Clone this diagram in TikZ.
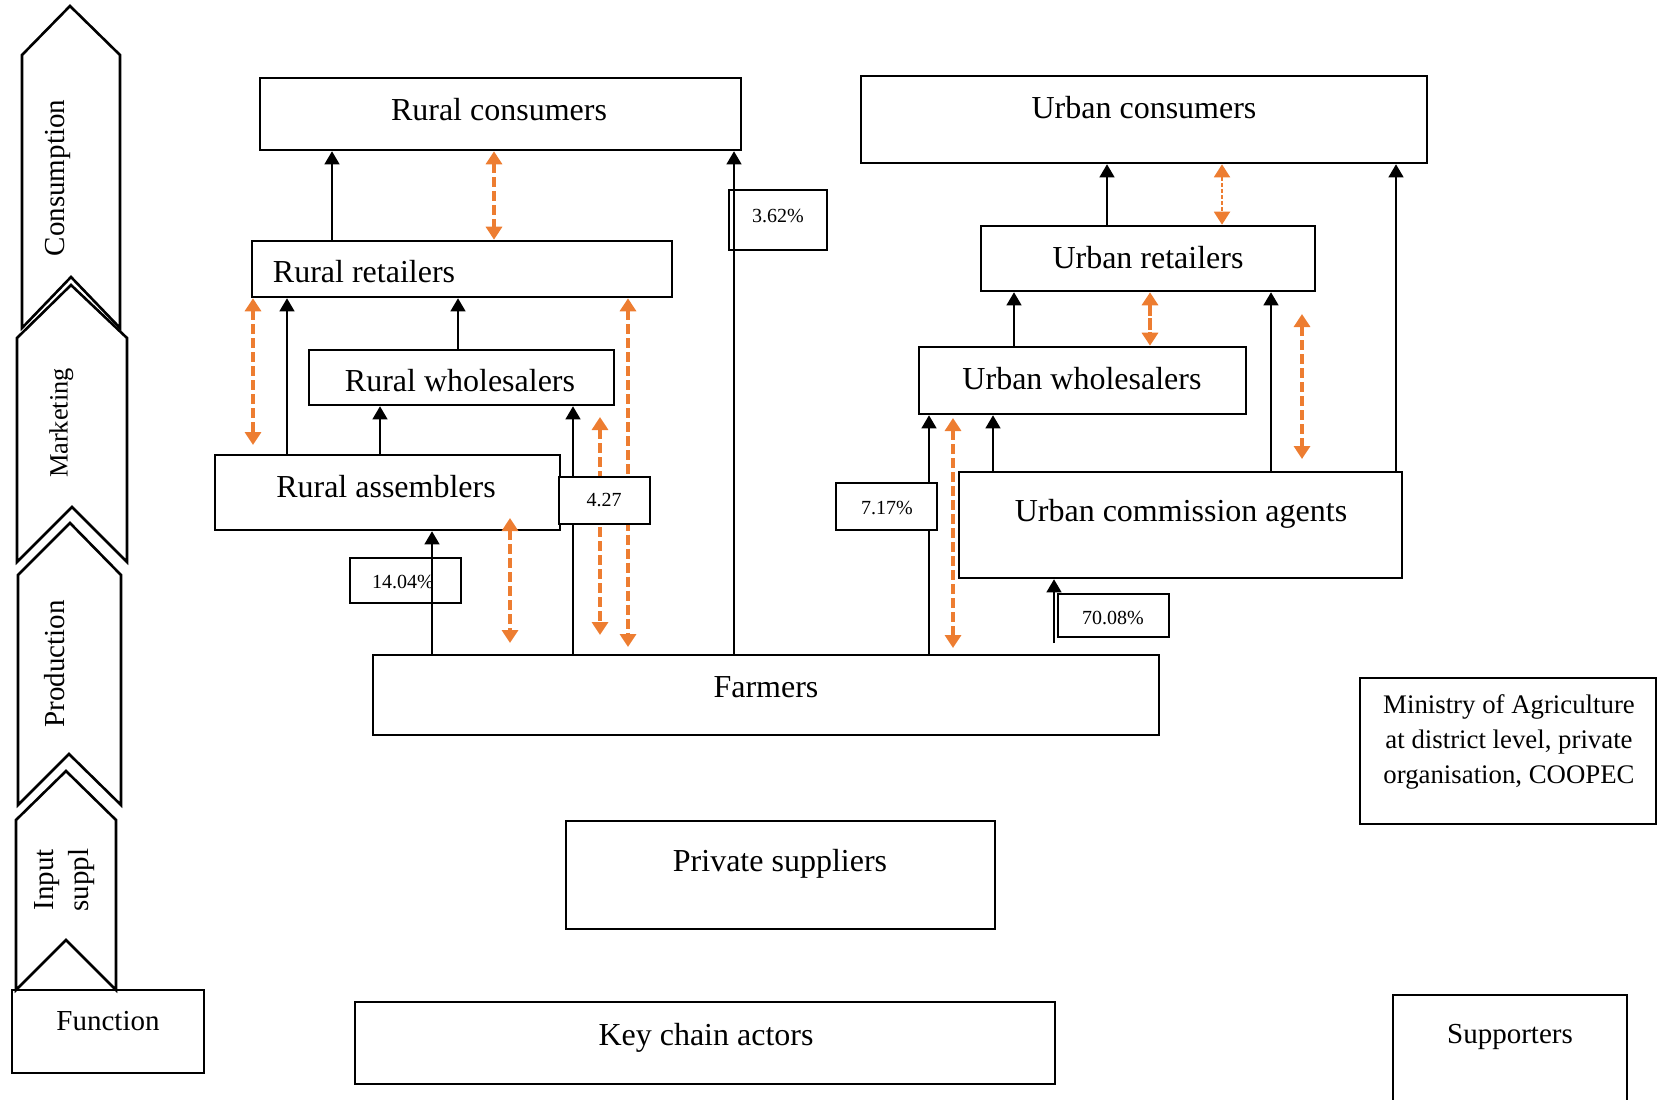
\documentclass[tikz,border=0pt]{standalone}
\usepackage{fontspec}
\setmainfont{Liberation Serif}
\usepackage{tikz}
\usetikzlibrary{arrows.meta,positioning,fit,calc}
\definecolor{linkorange}{RGB}{237,125,49}

\begin{document}
\begin{tikzpicture}[x=0.5pt, y=-0.5pt, >={Triangle[width=7.5pt,length=6.5pt]},
        box/.style={draw, line width=1.3pt, inner sep=0pt},
        pctbox/.style={draw, line width=1.2pt, inner sep=0pt},
        pct/.style={inner sep=0pt, font=\fontsize{10}{12}\selectfont, text height=6.6pt, text depth=0pt},
        actor/.style={inner sep=0pt, font=\fontsize{16}{19}\selectfont, text height=10.6pt, text depth=0pt},
        stagetxt/.style={inner sep=0pt, font=\fontsize{14.5}{17.5}\selectfont, text height=9.6pt, text depth=0pt},
        stage/.style={draw, line width=1.3pt, line join=miter},
        flow/.style={->, line width=0.6pt},
        link/.style={<->, draw=linkorange, line width=2pt, dash pattern=on 5pt off 2pt, >={Triangle[width=8pt,length=6.5pt]}}]
        \useasboundingbox (0,0) rectangle (1659,1099);

        % functions column
        \draw[stage] (22,55) -- (70,6) -- (120,55) -- (120,328) -- (71,277) -- (22,328) -- cycle;
        \draw[stage] (17,338) -- (71,285) -- (127,338) -- (127,562) -- (72,507) -- (17,562) -- cycle;
        \draw[stage] (18,575) -- (70,523) -- (121,575) -- (121,805) -- (69,754) -- (18,805) -- cycle;
        \draw[stage] (16,820) -- (66,771) -- (116,820) -- (116,990) -- (66,940) -- (16,990) -- cycle;
        \node[stagetxt, rotate=90] (consumption) at (55,178) {Consumption};
        \node[stagetxt, rotate=90, font=\fontsize{13.2}{16}\selectfont] (marketing) at (58,423) {Marketing};
        \node[stagetxt, rotate=90] (production) at (55,664) {Production};
        \node[rotate=90, align=center, inner sep=0pt, font=\fontsize{14.5}{17.5}\selectfont] (inputs) at (65,880) {Input\\suppl};
        \node[box, fit={(12,990) (204,1073)}] (func) {};
        \node[stagetxt] (func-t) at (108,1021) {Function};

        % chain actors
        \node[box, fit={(260,78) (741,150)}] (rcons) {};
        \node[box, fit={(861,76) (1427,163)}] (ucons) {};
        \node[box, fit={(252,241) (672,297)}] (rret) {};
        \node[box, fit={(981,226) (1315,291)}] (uret) {};
        \node[box, fit={(309,350) (614,405)}] (rwhol) {};
        \node[box, fit={(919,347) (1246,414)}] (uwhol) {};
        \node[box, fit={(215,455) (560,530)}] (rass) {};
        \node[box, fit={(959,472) (1402,578)}] (uagent) {};
        \node[box, fit={(373,655) (1159,735)}] (farm) {};
        \node[box, fit={(566,821) (995,929)}] (psup) {};
        \node[box, fit={(355,1002) (1055,1084)}] (keyact) {};
        \node[box, fit={(1360,678) (1656,824)}] (minis) {};
        \node[box, fit={(1393,995) (1627,1110)}] (supp) {};

        \node[actor] (rcons-t) at (499,110) {Rural consumers};
        \node[actor] (ucons-t) at (1144,108) {Urban consumers};
        \node[actor] (rret-t) at (364,272) {Rural retailers};
        \node[actor] (uret-t) at (1148,258) {Urban retailers};
        \node[actor] (rwhol-t) at (460,381) {Rural wholesalers};
        \node[actor] (uwhol-t) at (1082,379) {Urban wholesalers};
        \node[actor] (rass-t) at (386,487) {Rural assemblers};
        \node[actor] (uagent-t) at (1181,511) {Urban commission agents};
        \node[actor] (farm-t) at (766,687) {Farmers};
        \node[actor] (psup-t) at (780,861) {Private suppliers};
        \node[actor] (keyact-t) at (706,1035) {Key chain actors};
        \node[align=center, inner sep=0pt, font=\fontsize{13.4}{17.5}\selectfont] (minis-t) at (1509,742) {Ministry of Agriculture\\at district level, private\\organisation, COOPEC};
        \node[stagetxt] (supp-t) at (1510,1034) {Supporters};

        % product flows
        \foreach \x/\from/\to in {332/rret.north/rcons.south, 287/rass.north/rret.south, 458/rwhol.north/rret.south,
                380/rass.north/rwhol.south, 432/farm.north/rass.south, 573/farm.north/rwhol.south, 734/farm.north/rcons.south,
                929/farm.north/uwhol.south, 993/uagent.north/uwhol.south, 1014/uwhol.north/uret.south, 1107/uret.north/ucons.south,
                1271/uagent.north/uret.south, 1396/uagent.north/ucons.south} {
            \draw[flow] (\x,0 |- \from) -- (\x,0 |- \to);
        }
        \coordinate (c7008) at (1054,643);
        \draw[flow] (c7008) -- (c7008 |- uagent.south);

        % information links
        \coordinate (l1) at (253,445);
        \coordinate (l2) at (628,647);
        \coordinate (l3a) at (600,417);
        \coordinate (l3b) at (600,635);
        \coordinate (l4a) at (510,518);
        \coordinate (l4b) at (510,643);
        \coordinate (l5a) at (953,418);
        \coordinate (l5b) at (953,648);
        \coordinate (l6a) at (1302,314);
        \coordinate (l6b) at (1302,459);
        \draw[link] (494,0 |- rcons.south) -- (494,0 |- rret.north);
        \draw[link] (l1 |- rret.south) -- (l1);
        \draw[link] (l2 |- rret.south) -- (l2);
        \draw[link] (l3a) -- (l3b);
        \draw[link] (l4a) -- (l4b);
        \draw[link] (l5a) -- (l5b);
        \draw[link] (l6a) -- (l6b);
        \draw[link, dash pattern=on 6pt off 1pt] (1150,0 |- uret.south) -- (1150,0 |- uwhol.north);
        \draw[link, line width=1pt, dash pattern=on 2pt off 1pt] (1222,0 |- ucons.south) -- (1222,0 |- uret.north);

        % shares
        \node[pctbox, fit={(729,190) (827,250)}] (p362) {};
        \node[pctbox, fill=white, fit={(559,477) (650,524)}] (p427) {};
        \node[pctbox, fill=white, fit={(836,483) (937,530)}] (p717) {};
        \node[pctbox, fit={(350,558) (461,603)}] (p1404) {};
        \node[pctbox, fit={(1058,594) (1169,637)}] (p7008) {};
        \node[pct] (p362-t) at (778,216) {3.62\%};
        \node[pct] (p427-t) at (604,500) {4.27};
        \node[pct] (p717-t) at (887,508) {7.17\%};
        \node[pct] (p1404-t) at (403,582) {14.04\%};
        \node[pct] (p7008-t) at (1113,618) {70.08\%};
\end{tikzpicture}
\end{document}
